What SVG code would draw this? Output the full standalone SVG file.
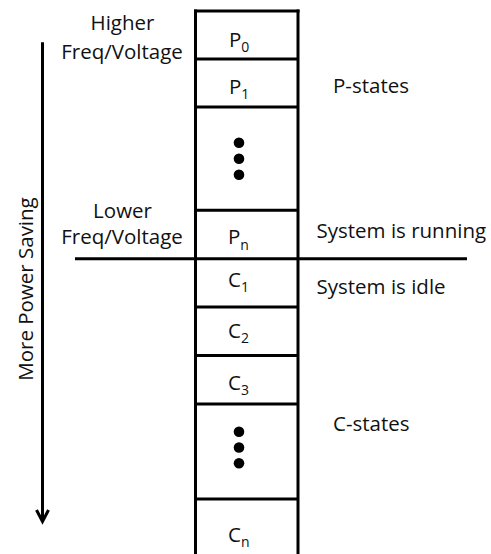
<svg xmlns="http://www.w3.org/2000/svg" width="491" height="554" viewBox="0 0 491 554">
  <style>
    text { font-family: "Open Sans", "Liberation Sans", sans-serif; font-size: 20.5px; fill: #111; }
    .sub { font-size: 14px; }
    .mid { text-anchor: middle; }
    .edge { stroke: #000; stroke-width: 3; fill: none; }
    .dot { fill: #000; }
  </style>

  <!-- column outline -->
  <g id="column">
    <line class="edge" x1="194" y1="11" x2="299.5" y2="11"/>
    <line class="edge" x1="195.5" y1="9.5" x2="195.5" y2="560"/>
    <line class="edge" x1="298" y1="9.5" x2="298" y2="560"/>
  </g>

  <!-- P-states -->
  <g id="p0">
    <text x="229" y="47">P<tspan class="sub" dy="5">0</tspan></text>
  </g>
  <g id="p1">
    <line class="edge" x1="195.5" y1="59" x2="298" y2="59"/>
    <text x="229" y="94">P<tspan class="sub" dy="5">1</tspan></text>
  </g>
  <g id="p-more">
    <line class="edge" x1="195.5" y1="107" x2="298" y2="107"/>
    <circle class="dot" cx="239" cy="142.7" r="5.3"/>
    <circle class="dot" cx="239" cy="158.7" r="5.3"/>
    <circle class="dot" cx="239" cy="174.7" r="5.3"/>
  </g>
  <g id="pn">
    <line class="edge" x1="195.5" y1="210.3" x2="298" y2="210.3"/>
    <text x="228" y="244.3">P<tspan class="sub" dy="5.5">n</tspan></text>
  </g>

  <!-- running / idle boundary -->
  <g id="boundary">
    <line class="edge" x1="75" y1="258.8" x2="467" y2="258.8"/>
  </g>

  <!-- C-states -->
  <g id="c1">
    <text x="228" y="286.5">C<tspan class="sub" dy="5">1</tspan></text>
  </g>
  <g id="c2">
    <line class="edge" x1="195.5" y1="307" x2="298" y2="307"/>
    <text x="228" y="338.3">C<tspan class="sub" dy="5">2</tspan></text>
  </g>
  <g id="c3">
    <line class="edge" x1="195.5" y1="355.5" x2="298" y2="355.5"/>
    <text x="228" y="390">C<tspan class="sub" dy="5">3</tspan></text>
  </g>
  <g id="c-more">
    <line class="edge" x1="195.5" y1="404" x2="298" y2="404"/>
    <circle class="dot" cx="239" cy="431.7" r="5.3"/>
    <circle class="dot" cx="239" cy="447.5" r="5.3"/>
    <circle class="dot" cx="239" cy="463.3" r="5.3"/>
  </g>
  <g id="cn">
    <line class="edge" x1="195.5" y1="499" x2="298" y2="499"/>
    <text x="228" y="542">C<tspan class="sub" dy="5">n</tspan></text>
  </g>

  <!-- side labels -->
  <g id="labels">
    <text class="mid" x="122.5" y="30">Higher</text>
    <text class="mid" x="122" y="58.5">Freq/Voltage</text>
    <text class="mid" x="122.5" y="217.7">Lower</text>
    <text class="mid" x="122" y="244.3">Freq/Voltage</text>
    <text x="333" y="93.3">P-states</text>
    <text x="316.5" y="237.5">System is running</text>
    <text x="316.5" y="294">System is idle</text>
    <text x="333" y="430.7">C-states</text>
    <text class="mid" transform="translate(33,289) rotate(-90)">More Power Saving</text>
  </g>

  <!-- power saving direction arrow -->
  <g id="connectors">
    <line class="edge" x1="42.5" y1="42.3" x2="42.5" y2="520"/>
    <polyline class="edge" points="36.5,510 42.5,521.5 48.5,510"/>
  </g>
</svg>
